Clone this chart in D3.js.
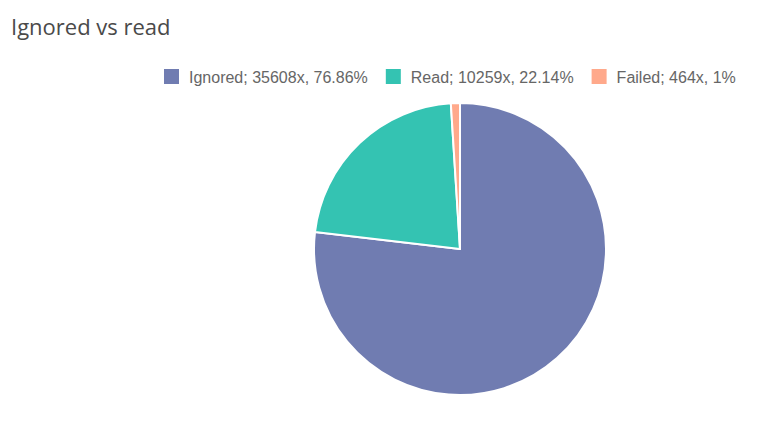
<!DOCTYPE html>
<html>
<head>
<meta charset="utf-8">
<script src="https://cdn.jsdelivr.net/npm/d3@7"></script>
<style>
  body { margin: 0; background: #fff; }
  svg { display: block; }
</style>
</head>
<body>
<svg id="chart" width="775" height="437"></svg>
<script>
const categories = ["Ignored", "Read", "Failed"];
const counts = [35608, 10259, 464];
const percentLabels = ["76.86%", "22.14%", "1%"];
const colors = ["#707cb1", "#34c3b2", "#ffa98b"];

const width = 775;
const height = 437;
const svg = d3.select("#chart");

// title
svg.append("text")
    .attr("x", 11)
    .attr("y", 35)
    .style("font-family", "'Open Sans', sans-serif")
    .style("font-size", "22px")
    .style("fill", "#4a4a4a")
    .text("Ignored vs read");

// pie
const cx = 460, cy = 249, radius = 146;
const pie = d3.pie().sort(null).value(d => d.count);
const arc = d3.arc().innerRadius(0).outerRadius(radius);
const data = categories.map((c, i) => ({ name: c, count: counts[i], color: colors[i] }));

const g = svg.append("g").attr("transform", `translate(${cx},${cy})`);
g.selectAll("path")
    .data(pie(data))
    .enter().append("path")
    .attr("d", arc)
    .attr("fill", d => d.data.color)
    .attr("stroke", "#fff")
    .attr("stroke-width", 2)
    .attr("stroke-linejoin", "round");

// legend
const legend = svg.append("g").attr("transform", "translate(164,69)");
let lx = 0;
data.forEach((d, i) => {
    const item = legend.append("g").attr("transform", `translate(${lx},0)`);
    item.append("rect")
        .attr("width", 15)
        .attr("height", 15)
        .attr("fill", d.color);
    const t = item.append("text")
        .attr("x", 25)
        .attr("y", 13.5)
        .style("font-family", "'Liberation Sans', Arial, sans-serif")
        .style("font-size", "16px")
        .style("fill", "#666")
        .text(`${d.name}; ${d.count}x, ${percentLabels[i]}`);
    lx += 25 + t.node().getComputedTextLength() + 18;
});
</script>
</body>
</html>
